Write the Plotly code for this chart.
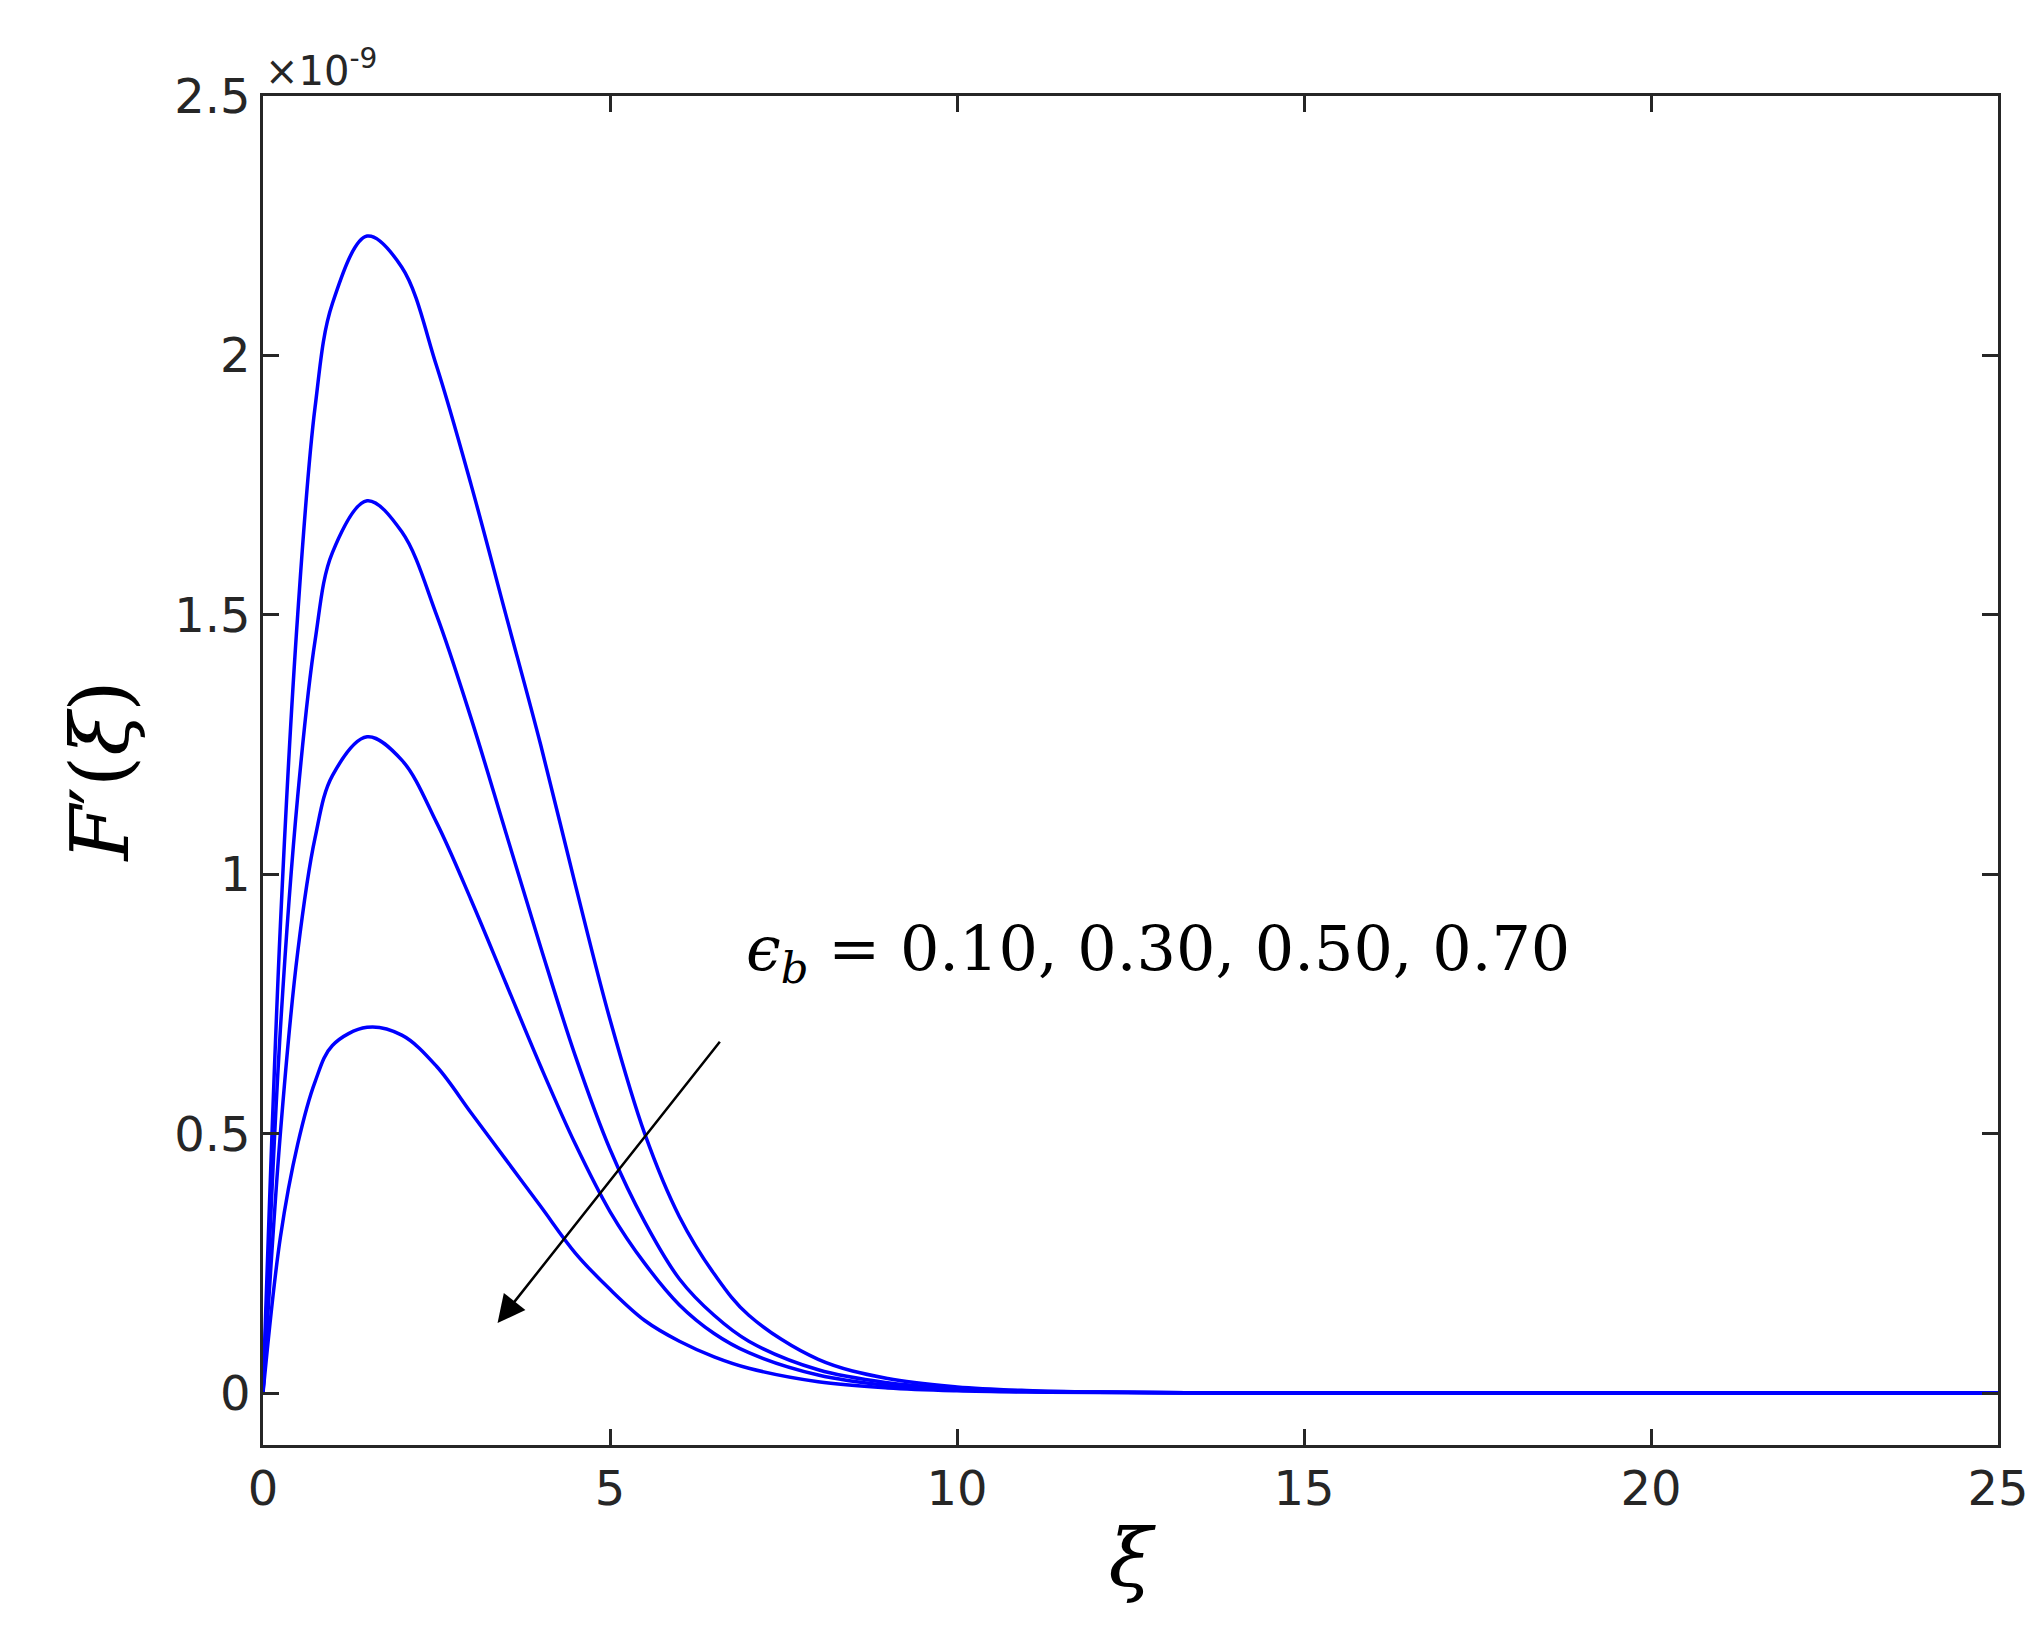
import plotly.graph_objects as go

xi = [0, 0.25, 0.5, 0.75, 1, 1.5, 2, 2.5, 3, 3.5, 4, 4.5, 5, 5.5, 6, 6.5, 7, 8, 9, 10, 11, 12, 14, 16, 20, 25]
f1 = [0, 0.9, 1.5, 1.9, 2.1, 2.23, 2.17, 1.98, 1.75, 1.5, 1.25, 0.98, 0.72, 0.5, 0.34, 0.23, 0.15, 0.065, 0.028, 0.012, 0.005, 0.002, 0.0003, 0, 0, 0]
f2 = [0, 0.7, 1.15, 1.45, 1.62, 1.72, 1.66, 1.5, 1.3, 1.08, 0.86, 0.65, 0.47, 0.33, 0.22, 0.15, 0.1, 0.045, 0.02, 0.009, 0.004, 0.002, 0.0003, 0, 0, 0]
f3 = [0, 0.5, 0.85, 1.07, 1.19, 1.265, 1.22, 1.1, 0.95, 0.79, 0.63, 0.48, 0.35, 0.25, 0.17, 0.115, 0.078, 0.035, 0.015, 0.007, 0.003, 0.0015, 0.0002, 0, 0, 0]
f4 = [0, 0.3, 0.48, 0.6, 0.67, 0.705, 0.69, 0.63, 0.54, 0.45, 0.36, 0.27, 0.2, 0.14, 0.1, 0.07, 0.048, 0.022, 0.01, 0.0045, 0.002, 0.001, 0.0001, 0, 0, 0]
series = [f1, f2, f3, f4]

fig = go.Figure()
for s in series:
    fig.add_trace(go.Scatter(x=xi, y=s, mode="lines", line=dict(color="#0000ff", width=3.5, shape="spline", smoothing=1.0), showlegend=False))

fig.add_annotation(x=3.38, y=0.135, ax=6.6, ay=0.68, xref="x", yref="y", axref="x", ayref="y",
                   showarrow=True, arrowhead=2, arrowsize=2.2, arrowwidth=2.5, arrowcolor="black", text="")
fig.add_annotation(x=12.9, y=0.85, xref="x", yref="y", showarrow=False,
                   text="<i>ϵ</i><sub><i>b</i></sub> = 0.10, 0.30, 0.50, 0.70",
                   font=dict(family="DejaVu Serif", size=62, color="black"))
fig.add_annotation(x=0, y=1, xref="paper", yref="paper", xanchor="left", yanchor="bottom", showarrow=False,
                   text="×10<sup>-9</sup>", font=dict(family="DejaVu Sans", size=40, color="#262626"), yshift=0)

ax = dict(showline=True, linecolor="#262626", linewidth=2.5, mirror="ticks", ticks="inside", ticklen=16,
          tickwidth=2.5, tickcolor="#262626", showgrid=False, zeroline=False,
          tickfont=dict(family="DejaVu Sans", size=48, color="#262626"))
fig.update_xaxes(range=[0, 25], tickvals=[0, 5, 10, 15, 20, 25],
                 title=dict(text="<i>ξ</i>", font=dict(family="DejaVu Serif", size=80, color="black"), standoff=15), **ax)
fig.update_yaxes(range=[-0.1, 2.5], tickvals=[0, 0.5, 1, 1.5, 2, 2.5], ticktext=["0", "0.5", "1", "1.5", "2", "2.5"],
                 title=dict(text="<i>F</i>′(<i>ξ</i>)", font=dict(family="DejaVu Serif", size=80, color="black"), standoff=20), **ax)
fig.update_layout(width=2033, height=1647, margin=dict(l=255, r=43, t=88, b=210),
                  plot_bgcolor="white", paper_bgcolor="white")
fig.write_html("out.html")
